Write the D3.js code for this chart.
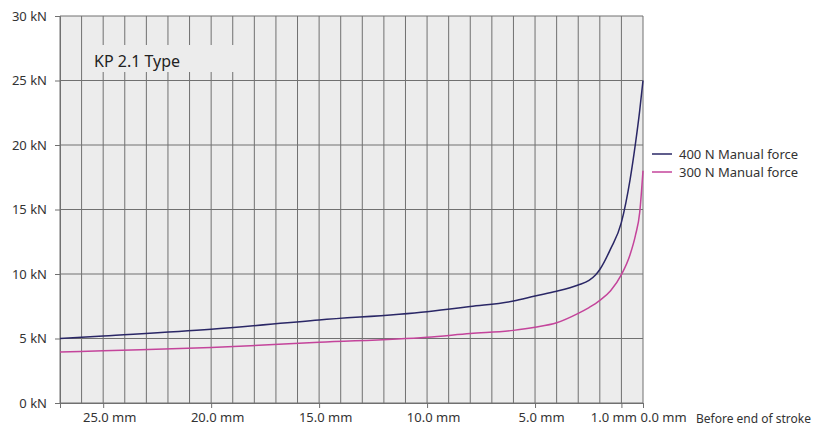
<!DOCTYPE html>
<html>
<head>
<meta charset="utf-8">
<script src="https://cdn.jsdelivr.net/npm/d3@7"></script>
<style>
  html, body { margin: 0; padding: 0; background: #fff; }
  svg { display: block; font-family: "Noto Sans", sans-serif; }
</style>
</head>
<body>
<svg id="chart" width="813" height="427"></svg>
<script>
// ---- data ----
const strokeMm = [27, 25, 20, 15, 10, 8, 6, 5, 4, 3, 2.5, 2.2, 2, 1.5, 1, 0.6, 0.35, 0.15, 0];
const force400 = [5.0, 5.2, 5.72, 6.44, 7.08, 7.48, 7.9, 8.29, 8.66, 9.15, 9.5, 9.92, 10.35, 11.95, 14.0, 17.3, 20.1, 22.7, 25.0];
const force300 = [3.95, 4.05, 4.3, 4.7, 5.1, 5.38, 5.63, 5.87, 6.22, 6.95, 7.4, 7.7, 7.95, 8.7, 9.95, 11.5, 13.0, 14.8, 18.0];
const seriesNames = ["400 N Manual force", "300 N Manual force"];
const yTicks = [0, 5, 10, 15, 20, 25, 30];
const yTickLabels = ["0 kN", "5 kN", "10 kN", "15 kN", "20 kN", "25 kN", "30 kN"];
const xTicks = [25, 20, 15, 10, 5, 1, 0];
const xTickLabels = ["25.0 mm", "20.0 mm", "15.0 mm", "10.0 mm", "5.0 mm", "1.0 mm", "0.0 mm"];
const xAxisTitle = "Before end of stroke";
const chartTitle = "KP 2.1 Type";

// ---- layout ----
const svg = d3.select("#chart");
const pL = 60, pR = 643, pT = 16, pB = 403;
const x = d3.scaleLinear().domain([27, 0]).range([pL, pR]);
const y = d3.scaleLinear().domain([0, 30]).range([pB, pT]);
const gridColor = "#707070";
const textColor = "#333";
const fontFam = "'Noto Sans', sans-serif";
const colors = ["#2a2766", "#c4449b"];

// background
svg.append("rect").attr("x", pL).attr("y", pT)
  .attr("width", pR - pL).attr("height", pB - pT)
  .attr("fill", "#ececec");

// vertical grid: every 1 mm
svg.append("g").selectAll("line").data(d3.range(0, 28)).join("line")
  .attr("x1", d => x(d)).attr("x2", d => x(d))
  .attr("y1", pT).attr("y2", pB)
  .attr("stroke", gridColor).attr("stroke-width", 1);

// title box (covers grid)
svg.append("rect").attr("x", 86).attr("y", 45).attr("width", 152).attr("height", 27)
  .attr("fill", "#ececec");
svg.append("text").attr("x", 94).attr("y", 67)
  .attr("font-size", 16).attr("fill", "#222").text(chartTitle);

// horizontal grid
svg.append("g").selectAll("line").data(yTicks).join("line")
  .attr("x1", pL).attr("x2", pR)
  .attr("y1", d => y(d)).attr("y2", d => y(d))
  .attr("stroke", gridColor).attr("stroke-width", 1);

// y axis
const yAxis = d3.axisLeft(y).tickValues(yTicks).tickSize(5).tickPadding(8)
  .tickFormat((d, i) => yTickLabels[i]);
const gy = svg.append("g").attr("transform", `translate(${pL},0)`).call(yAxis);
gy.select(".domain").attr("stroke", gridColor);
gy.selectAll(".tick line").attr("stroke", gridColor);
gy.selectAll(".tick text").attr("font-size", 13).attr("fill", textColor)
  .attr("font-family", fontFam);

// x axis
const xAxis = d3.axisBottom(x).tickValues([27].concat(xTicks)).tickSize(5).tickPadding(5)
  .tickFormat(d => { const i = xTicks.indexOf(d); return i < 0 ? "" : xTickLabels[i]; });
const gx = svg.append("g").attr("transform", `translate(0,${pB})`).call(xAxis);
gx.select(".domain").attr("stroke", gridColor);
gx.selectAll(".tick line").attr("stroke", gridColor);
gx.selectAll(".tick text").attr("font-size", 13).attr("fill", textColor)
  .attr("font-family", fontFam)
  .attr("dx", 6)
  .each(function(d) {
    const t = d3.select(this);
    if (d === 1) t.attr("text-anchor", "end").attr("dx", 15);
    if (d === 0) t.attr("text-anchor", "start").attr("dx", -3);
  });
svg.append("text").attr("x", 811).attr("y", pB + 19.5)
  .attr("text-anchor", "end")
  .attr("font-size", 12).attr("fill", textColor).text(xAxisTitle);

// lines
const line = d3.line().x(d => x(d[0])).y(d => y(d[1])).curve(d3.curveMonotoneX);
[force400, force300].forEach((vals, i) => {
  svg.append("path").datum(strokeMm.map((m, j) => [m, vals[j]]))
    .attr("d", line).attr("fill", "none")
    .attr("stroke", colors[i]).attr("stroke-width", 1.5);
});

// legend
const lg = svg.append("g");
seriesNames.forEach((name, i) => {
  const ly = 154 + i * 18;
  lg.append("line").attr("x1", 652).attr("x2", 672).attr("y1", ly).attr("y2", ly)
    .attr("stroke", colors[i]).attr("stroke-width", 1.5);
  lg.append("text").attr("x", 679).attr("y", ly + 4.5)
    .attr("font-size", 13).attr("fill", textColor).text(name);
});
</script>
</body>
</html>
